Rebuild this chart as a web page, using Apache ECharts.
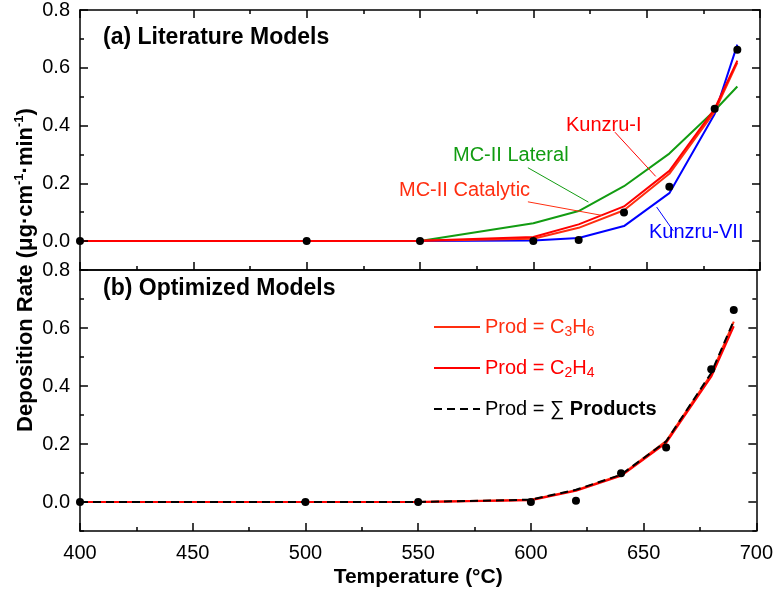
<!DOCTYPE html>
<html>
<head>
<meta charset="utf-8">
<script src="https://cdn.jsdelivr.net/npm/echarts@6/dist/echarts.min.js"></script>
<style>
  html, body { margin: 0; padding: 0; background: #fff; }
  #chart { width: 776px; height: 591px; }
</style>
</head>
<body>
<div id="chart"></div>
<script>
// temperatures (°C) shared by measurements and models
const temps = [400, 500, 550, 600, 620, 640, 660, 680, 690];
// measured deposition rate (black dots)
const expRate = [0, 0, 0, 0, 0.004, 0.099, 0.188, 0.458, 0.662];
// (a) literature models
const mcLateral = [0, 0, 0, 0.062, 0.104, 0.19, 0.303, 0.452, 0.535];
const mcCatalytic = [0, 0, 0.001, 0.008, 0.046, 0.107, 0.233, 0.448, 0.618];
const kunzruI = [0, 0, 0.001, 0.014, 0.058, 0.12, 0.243, 0.458, 0.625];
const kunzruVII = [0, 0, 0, 0.002, 0.011, 0.052, 0.166, 0.44, 0.68];
// (b) optimized models
const prodC3H6 = [0, 0, 0, 0.008, 0.041, 0.093, 0.21, 0.44, 0.622];
const prodC2H4 = [0, 0, 0, 0.006, 0.039, 0.09, 0.204, 0.432, 0.606];
const prodSum = [0, 0, 0, 0.008, 0.042, 0.094, 0.209, 0.445, 0.625];
// tick values
const xMajor = [400, 450, 500, 550, 600, 650, 700];
const xMinor = [425, 475, 525, 575, 625, 675];
const yMajor = [0, 0.2, 0.4, 0.6, 0.8];
const yMinor = [-0.1, 0.1, 0.3, 0.5, 0.7];
// leader lines for the labels in panel (a), data coordinates
const leadKunzruI = [[636, 0.377], [654, 0.224]];
const leadLateral = [[597.6, 0.254], [624.3, 0.135]];
const leadCatalytic = [[597.6, 0.136], [630.3, 0.089]];
const leadKunzruVII = [[654.4, 0.118], [661.8, 0.035]];

const FONT = 'Liberation Sans, Arial, sans-serif';
const GREEN = '#129c12';
const RED = '#ff0000';
const ORANGE_RED = '#ff2e10';
const BLUE = '#0000ff';

const pairs = arr => temps.map((t, i) => [t, arr[i]]);
const frame = { color: '#000', width: 1.5 };

// plot area sizes, used to turn tick lengths in px into axis units
const PLOT_W = 680;
const PLOT_H = [260, 261];
const X_PER_PX = 300 / PLOT_W;

function xAxes (gi, labels) {
  return [
    {
      gridIndex: gi, type: 'value', min: 400, max: 700, interval: 50,
      axisLine: { show: true, onZero: false, lineStyle: frame },
      axisTick: { show: false },
      axisLabel: { show: labels, margin: 12, fontSize: 20, color: '#000', fontFamily: FONT },
      splitLine: { show: false },
      name: labels ? 'Temperature (°C)' : '',
      nameLocation: 'middle',
      nameGap: 36,
      nameTextStyle: { fontSize: 21, fontWeight: 'bold', color: '#000', fontFamily: FONT }
    },
    {
      gridIndex: gi, type: 'value', min: 400, max: 700, interval: 50, position: 'top',
      axisLine: { show: true, onZero: false, lineStyle: frame },
      axisTick: { show: false },
      axisLabel: { show: false },
      splitLine: { show: false }
    }
  ]
}

function yAxes (gi) {
  const base = { gridIndex: gi, type: 'value', min: -0.1, max: 0.8, splitLine: { show: false } }
  return [
    Object.assign({}, base, {
      position: 'left',
      axisLine: { show: true, onZero: false, lineStyle: frame },
      axisTick: { show: false },
      axisLabel: { customValues: yMajor, margin: 10, fontSize: 20, color: '#000', fontFamily: FONT,
        formatter: v => v.toFixed(1) }
    }),
    Object.assign({}, base, {
      position: 'right',
      axisLine: { show: true, onZero: false, lineStyle: frame },
      axisTick: { show: false },
      axisLabel: { show: false }
    })
  ]
}

// inward ticks of one panel, laid out in data coordinates
function tickMarks (gi, topTicks) {
  const yPerPx = 0.9 / PLOT_H[gi]
  const out = []
  const seg = (a, b) => out.push([{ coord: a }, { coord: b }])
  xMajor.forEach(t => {
    seg([t, -0.1], [t, -0.1 + 8 * yPerPx])
    if (topTicks) seg([t, 0.8], [t, 0.8 - 8 * yPerPx])
  })
  xMinor.forEach(t => {
    seg([t, -0.1], [t, -0.1 + 4 * yPerPx])
    if (topTicks) seg([t, 0.8], [t, 0.8 - 4 * yPerPx])
  })
  yMajor.forEach(v => {
    seg([400, v], [400 + 8 * X_PER_PX, v])
    seg([700, v], [700 - 8 * X_PER_PX, v])
  })
  yMinor.forEach(v => {
    seg([400, v], [400 + 4 * X_PER_PX, v])
    seg([700, v], [700 - 4 * X_PER_PX, v])
  })
  return {
    silent: true, symbol: 'none', label: { show: false }, animation: false,
    lineStyle: { color: '#000', width: 1.5, type: 'solid', opacity: 1 },
    emphasis: { disabled: true },
    data: out
  }
}

function lineSeries (name, data, color, xi, yi, extra) {
  return Object.assign({
    name: name, type: 'line', data: pairs(data), xAxisIndex: xi, yAxisIndex: yi,
    symbol: 'none', showSymbol: false, silent: true,
    lineStyle: { color: color, width: 2 }, itemStyle: { color: color }
  }, extra || {})
}

function leader (pts, color) {
  return {
    silent: true, symbol: 'none',
    label: { show: false },
    lineStyle: { color: color, width: 1, type: 'solid' },
    data: [[{ coord: pts[0] }, { coord: pts[1] }]]
  }
}

// measured points; the panel's axis ticks ride along as its markLine
function dots (gi, topTicks) {
  return {
    name: 'Experiment', type: 'scatter', data: pairs(expRate), xAxisIndex: gi * 2, yAxisIndex: gi * 2,
    symbolSize: 8, itemStyle: { color: '#000', opacity: 1 }, z: 10, silent: true,
    markLine: tickMarks(gi, topTicks)
  }
}

const chart = echarts.init(document.getElementById('chart'))
const option = {
  animation: false,
  grid: [
    { left: 80, right: 16, top: 10, height: PLOT_H[0] },
    { left: 80, right: 16, top: 270, height: PLOT_H[1] }
  ],
  xAxis: [].concat(xAxes(0, false), xAxes(1, true)),
  yAxis: [].concat(yAxes(0), yAxes(1)),
  legend: {
    data: [
      { name: 'C3H6', textStyle: { color: ORANGE_RED } },
      { name: 'C2H4', textStyle: { color: RED } },
      { name: 'Sum', textStyle: { color: '#000' } }
    ],
    orient: 'vertical',
    left: 428,
    top: 310,
    itemWidth: 46,
    itemHeight: 14,
    itemGap: 17,
    selectedMode: false,
    itemStyle: { opacity: 0 },
    textStyle: {
      fontSize: 20, lineHeight: 24, fontFamily: FONT,
      rich: {
        s: { fontSize: 14, verticalAlign: 'bottom', lineHeight: 24 },
        b: { fontSize: 20, fontWeight: 'bold', color: '#000' }
      }
    },
    formatter: function (n) {
      if (n === 'C3H6') return 'Prod = C{s|3}H{s|6}'
      if (n === 'C2H4') return 'Prod = C{s|2}H{s|4}'
      return 'Prod = ∑ {b|Products}'
    }
  },
  graphic: [
    { type: 'text', left: 103, top: 26, style: { text: '(a) Literature Models', font: 'bold 23px ' + FONT, fill: '#000' } },
    { type: 'text', left: 103, top: 277, style: { text: '(b) Optimized Models', font: 'bold 23px ' + FONT, fill: '#000' } },
    { type: 'text', left: 566, top: 115, style: { text: 'Kunzru-I', font: '20px ' + FONT, fill: RED } },
    { type: 'text', left: 453, top: 145, style: { text: 'MC-II Lateral', font: '20px ' + FONT, fill: GREEN } },
    { type: 'text', left: 399, top: 180, style: { text: 'MC-II Catalytic', font: '20px ' + FONT, fill: ORANGE_RED } },
    { type: 'text', left: 649, top: 222, style: { text: 'Kunzru-VII', font: '20px ' + FONT, fill: BLUE } },
    {
      type: 'text', x: 26, y: 270, rotation: Math.PI / 2,
      style: {
        text: '{t|Deposition Rate (μg·cm}{p|-1}{t|·min}{p|-1}{t|)}',
        align: 'center', verticalAlign: 'middle',
        rich: {
          t: { font: 'bold 22px ' + FONT, fill: '#000', lineHeight: 26 },
          p: { font: 'bold 13px ' + FONT, fill: '#000', verticalAlign: 'top', lineHeight: 26 }
        }
      }
    }
  ],
  series: [
    // panel (a)
    lineSeries('MC-II Lateral', mcLateral, GREEN, 0, 0, { markLine: leader(leadLateral, GREEN) }),
    lineSeries('Kunzru-VII', kunzruVII, BLUE, 0, 0, { markLine: leader(leadKunzruVII, BLUE) }),
    lineSeries('MC-II Catalytic', mcCatalytic, ORANGE_RED, 0, 0, { markLine: leader(leadCatalytic, ORANGE_RED) }),
    lineSeries('Kunzru-I', kunzruI, RED, 0, 0, { markLine: leader(leadKunzruI, RED) }),
    dots(0, true),
    // panel (b)
    lineSeries('C3H6', prodC3H6, ORANGE_RED, 2, 2),
    lineSeries('C2H4', prodC2H4, RED, 2, 2),
    lineSeries('Sum', prodSum, '#000', 2, 2, { lineStyle: { color: '#000', width: 2, type: [8, 5] } }),
    dots(1, false)
  ]
}
chart.setOption(option)
</script>
</body>
</html>
